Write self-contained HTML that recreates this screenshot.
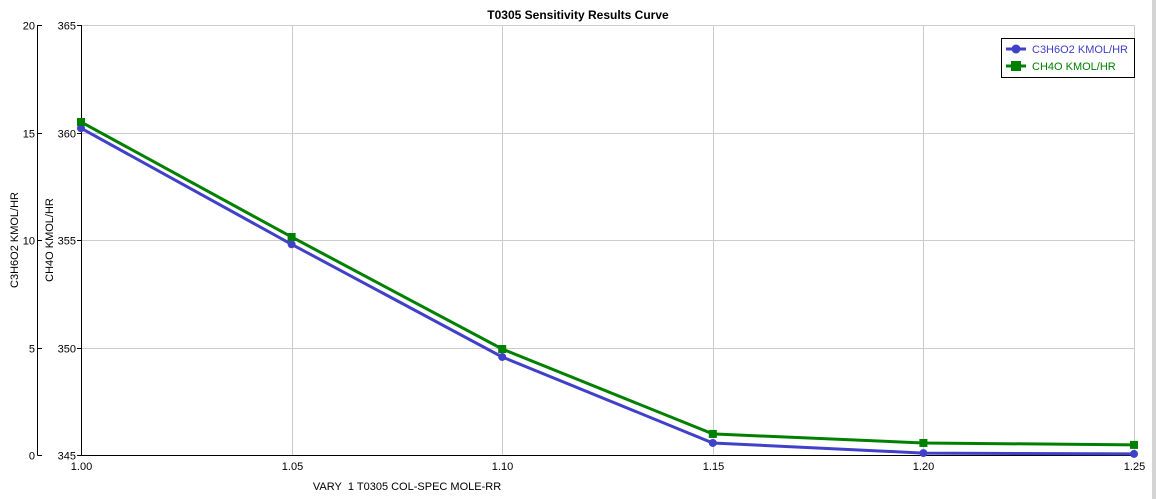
<!DOCTYPE html>
<html><head><meta charset="utf-8"><style>
html,body{margin:0;padding:0;background:#fff;width:1156px;height:499px;overflow:hidden}
svg{display:block;font-family:"Liberation Sans",sans-serif}
</style></head><body>
<svg id="chart" width="1156" height="499">
<rect x="1152" y="0" width="4" height="499" fill="#d4d4d4"/>
<text x="578" y="19" text-anchor="middle" font-size="12" font-weight="bold">T0305 Sensitivity Results Curve</text>
<g id="grid"></g>
<g id="axes"></g>
<g id="series"></g>
<text x="407" y="490" text-anchor="middle" font-size="11">VARY&#160; 1 T0305 COL-SPEC MOLE-RR</text>
<text transform="translate(18,240) rotate(-90)" text-anchor="middle" font-size="11">C3H6O2 KMOL/HR</text>
<text transform="translate(53,240) rotate(-90)" text-anchor="middle" font-size="11">CH4O KMOL/HR</text>
<g>
<rect x="1001.5" y="38.5" width="133" height="39" fill="#fff" stroke="#000"/>
<line x1="1006" y1="49" x2="1026" y2="49" stroke="#4040c8" stroke-width="3"/>
<circle cx="1016" cy="49" r="4.5" fill="#4040c8"/>
<text x="1032" y="53" font-size="11" fill="#4040c8">C3H6O2 KMOL/HR</text>
<line x1="1006" y1="66" x2="1026" y2="66" stroke="#008000" stroke-width="3"/>
<rect x="1011" y="61" width="10" height="10" fill="#008000"/>
<text x="1032" y="70" font-size="11" fill="#008000">CH4O KMOL/HR</text>
</g>
</svg>
<script>
const categories=[1.00,1.05,1.10,1.15,1.20,1.25];
const xTickLabels=["1.00","1.05","1.10","1.15","1.20","1.25"];
const c3h6o2=[15.2,9.8,4.56,0.56,0.09,0.05];
const ch4o=[360.49,355.14,349.93,345.98,345.56,345.47];
const leftTicks=[0,5,10,15,20];
const rightTicks=[345,350,355,360,365];
const NS="http://www.w3.org/2000/svg";
const L=81,R=1134,T=25,B=455;
const x=v=>L+(v-1.00)/(1.25-1.00)*(R-L);
const yL=v=>B-(v-0)/(20-0)*(B-T);
const yR=v=>B-(v-345)/(365-345)*(B-T);
function mk(tag,attrs,parent,txt){const e=document.createElementNS(NS,tag);for(const k in attrs)e.setAttribute(k,attrs[k]);if(txt!==undefined)e.textContent=txt;parent.appendChild(e);return e;}
const grid=document.getElementById('grid'),axes=document.getElementById('axes'),ser=document.getElementById('series');
categories.forEach((c,i)=>{
 const X=Math.round(x(c))+0.5;
 if(i>0){const g=mk('line',{x1:X,y1:T,x2:X,y2:B,stroke:'#cccccc'},grid);
 
 }
 const t=mk('text',{x:X,y:B+15,'text-anchor':'middle','font-size':11},axes,xTickLabels[i]);
 
 
});
rightTicks.forEach((v,i)=>{
 const Y=Math.round(yR(v))+0.5;
 if(i>0){const g=mk('line',{x1:L,y1:Y,x2:R,y2:Y,stroke:'#cccccc'},grid);
 
 }
 mk('line',{x1:L-4,y1:Y,x2:L,y2:Y,stroke:'#000'},axes);
 const t=mk('text',{x:L-5,y:Y+4,'text-anchor':'end','font-size':11},axes,String(v));
 
 
});
leftTicks.forEach(v=>{
 const Y=Math.round(yL(v))+0.5;
 mk('line',{x1:37.5,y1:Y,x2:42,y2:Y,stroke:'#000'},axes);
 const t=mk('text',{x:35,y:Y+4,'text-anchor':'end','font-size':11},axes,String(v));
 
 
});
mk('line',{x1:37.5,y1:T,x2:37.5,y2:B+0.5,stroke:'#000'},axes);
mk('line',{x1:L+0.5,y1:T,x2:L+0.5,y2:B+0.5,stroke:'#000'},axes);
mk('line',{x1:L,y1:B+0.5,x2:R,y2:B+0.5,stroke:'#000'},axes);
const bp=categories.map((c,i)=>x(c)+','+yL(c3h6o2[i])).join(' ');
const bl=mk('polyline',{points:bp,fill:'none',stroke:'#4040c8','stroke-width':3},ser);


categories.forEach((c,i)=>{const p=mk('circle',{cx:x(c),cy:yL(c3h6o2[i]),r:4,fill:'#4040c8'},ser);
 
 });
const gp=categories.map((c,i)=>x(c)+','+yR(ch4o[i])).join(' ');
const gl=mk('polyline',{points:gp,fill:'none',stroke:'#008000','stroke-width':3},ser);


categories.forEach((c,i)=>{const p=mk('rect',{x:x(c)-4,y:yR(ch4o[i])-4,width:8,height:8,fill:'#008000'},ser);
 
 });
</script>
</body></html>
